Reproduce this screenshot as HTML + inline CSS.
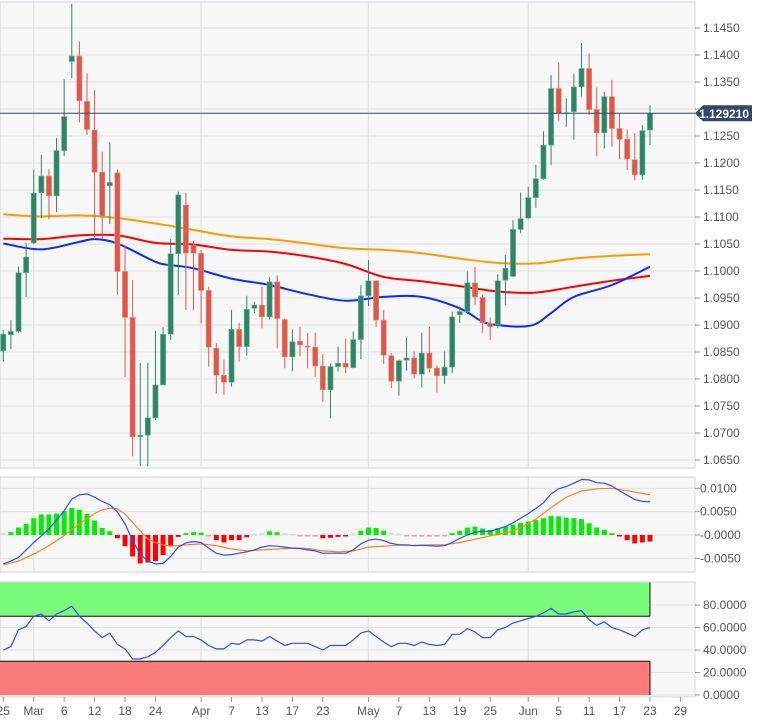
<!DOCTYPE html>
<html><head><meta charset="utf-8">
<style>
html,body{margin:0;padding:0;background:#fff;}
svg{display:block;font-family:"Liberation Sans",sans-serif;}
</style></head>
<body>
<svg id="chart" width="762" height="724" viewBox="0 0 762 724" xmlns="http://www.w3.org/2000/svg"></svg>
<script>
// ---- data ----
const opens  = [1.0852,1.0882,1.0888,1.0997,1.1052,1.1145,1.1176,1.1139,1.1223,1.1388,1.1398,1.1314,1.1261,1.1183,1.1158,1.1182,1.0999,1.0914,1.0693,1.0696,1.0728,1.0789,1.0883,1.1032,1.1122,1.1048,1.1033,1.0964,1.0857,1.0807,1.0794,1.0892,1.0860,1.0931,1.0937,1.0915,1.0980,1.0910,1.0841,1.0870,1.0861,1.0859,1.0824,1.0780,1.0823,1.0829,1.0821,1.0873,1.0954,1.0982,1.0909,1.0843,1.0796,1.0835,1.0839,1.0809,1.0848,1.0820,1.0806,1.0822,1.0919,1.0925,1.0978,1.0951,1.0903,1.0900,1.0983,1.0990,1.1077,1.1098,1.1136,1.1171,1.1233,1.1338,1.1292,1.1295,1.1341,1.1375,1.1299,1.1256,1.1323,1.1264,1.1244,1.1206,1.1178,1.1261];
const highs  = [1.0891,1.0909,1.1008,1.1052,1.1187,1.1215,1.1188,1.1246,1.1355,1.1495,1.1425,1.1366,1.1335,1.1221,1.1238,1.1188,1.1048,1.0983,1.0830,1.0830,1.0889,1.0896,1.1059,1.1147,1.1145,1.1056,1.1039,1.0971,1.0866,1.0836,1.0928,1.0904,1.0954,1.0943,1.0971,1.0989,1.0992,1.0912,1.0892,1.0897,1.0885,1.0886,1.0846,1.0829,1.0860,1.0875,1.0888,1.0974,1.1020,1.0982,1.0928,1.0848,1.0836,1.0877,1.0851,1.0886,1.0897,1.0825,1.0851,1.0925,1.0934,1.0999,1.1008,1.0956,1.0914,1.0994,1.1030,1.1094,1.1145,1.1156,1.1197,1.1259,1.1363,1.1386,1.1320,1.1365,1.1422,1.1403,1.1340,1.1332,1.1354,1.1293,1.1262,1.1255,1.1270,1.1307];
const lows   = [1.0832,1.0855,1.0885,1.0952,1.1050,1.1098,1.1096,1.1109,1.1213,1.1357,1.1275,1.1252,1.1059,1.1059,1.1087,1.0956,1.0804,1.0657,1.0639,1.0638,1.0724,1.0812,1.0872,1.0956,1.0928,1.0928,1.0903,1.0823,1.0773,1.0771,1.0786,1.0832,1.0843,1.0922,1.0894,1.0910,1.0857,1.0820,1.0814,1.0842,1.0820,1.0804,1.0758,1.0727,1.0814,1.0811,1.0820,1.0837,1.0935,1.0896,1.0828,1.0783,1.0769,1.0815,1.0801,1.0785,1.0812,1.0775,1.0791,1.0811,1.0904,1.0920,1.0937,1.0886,1.0872,1.0894,1.0937,1.0989,1.1070,1.1096,1.1117,1.1169,1.1196,1.1278,1.1267,1.1243,1.1323,1.1289,1.1213,1.1227,1.1230,1.1207,1.1187,1.1168,1.1169,1.1233];
const closes = [1.0883,1.0888,1.0997,1.1026,1.1144,1.1176,1.1139,1.1223,1.1286,1.1398,1.1315,1.1262,1.1183,1.1102,1.1164,1.0999,1.0914,1.0693,1.0696,1.0728,1.0789,1.0883,1.1032,1.1141,1.1033,1.1033,1.0964,1.0859,1.0807,1.0794,1.0892,1.0860,1.0929,1.0937,1.0915,1.0980,1.0912,1.0841,1.0869,1.0863,1.0859,1.0824,1.0780,1.0823,1.0829,1.0822,1.0873,1.0954,1.0982,1.0909,1.0844,1.0796,1.0834,1.0839,1.0809,1.0848,1.0820,1.0806,1.0822,1.0915,1.0925,1.0978,1.0952,1.0904,1.0897,1.0982,1.1005,1.1077,1.1097,1.1136,1.1171,1.1233,1.1338,1.1293,1.1293,1.1341,1.1375,1.1299,1.1256,1.1323,1.1264,1.1244,1.1207,1.1178,1.1260,1.1292];
const maIdx   = [0,5,10,15,20,25,30,35,40,45,50,55,60,65,70,75,80,85];
const ma200   = [1.1105,1.1101,1.1103,1.1098,1.1088,1.1076,1.1064,1.1059,1.1051,1.1042,1.1039,1.1033,1.1023,1.1015,1.1014,1.1023,1.1028,1.1031];
const ma100   = [1.1060,1.1059,1.1066,1.1066,1.1052,1.1049,1.1039,1.1036,1.1027,1.1013,1.0989,1.0981,1.0972,1.0962,1.0960,1.0971,1.0982,1.0991];
const ma50Idx = [0,5,10,12,15,20,22,25,30,35,40,45,50,55,60,63,65,68,70,72,75,80,85];
const ma50    = [1.1051,1.1040,1.1054,1.1059,1.1051,1.1017,1.1011,1.1005,1.0986,1.0974,1.0957,1.0945,1.0952,1.0952,1.0931,1.0906,1.0900,1.0897,1.0902,1.0922,1.0952,1.0974,1.1008];
const hist = [0.0002,0.0006,0.0016,0.0024,0.0036,0.0044,0.0044,0.0046,0.0051,0.0058,0.0054,0.0045,0.0031,0.0015,0.0008,-0.0007,-0.0024,-0.0046,-0.0061,-0.0059,-0.0056,-0.0043,-0.0024,-0.0004,0.0004,0.0006,0.0005,-0.0002,-0.0011,-0.0016,-0.0011,-0.0011,-0.0005,0.0000,0.0002,0.0008,0.0006,0.0002,0.0000,-0.0001,-0.0002,-0.0002,-0.0007,-0.0006,-0.0004,-0.0003,0.0001,0.0009,0.0016,0.0015,0.0009,0.0002,0.0001,-0.0001,-0.0001,-0.0002,-0.0002,-0.0002,-0.0001,0.0004,0.0009,0.0016,0.0018,0.0014,0.0011,0.0015,0.0018,0.0022,0.0026,0.0029,0.0032,0.0036,0.0041,0.0040,0.0037,0.0036,0.0034,0.0025,0.0016,0.0011,0.0004,-0.0003,-0.0011,-0.0018,-0.0016,-0.0014];
const macdLine = [-0.0062,-0.0056,-0.0048,-0.0032,-0.0016,-0.0002,0.0013,0.0032,0.0052,0.0077,0.0086,0.0088,0.0081,0.0072,0.0065,0.0049,0.0024,-0.0012,-0.0041,-0.0056,-0.0062,-0.0061,-0.0046,-0.0026,-0.0017,-0.0014,-0.0016,-0.0028,-0.0039,-0.0043,-0.0042,-0.0039,-0.0036,-0.0032,-0.0026,-0.0023,-0.0024,-0.0026,-0.0028,-0.0029,-0.0032,-0.0034,-0.0039,-0.0039,-0.0039,-0.0039,-0.0032,-0.0019,-0.0011,-0.0009,-0.0012,-0.0018,-0.0021,-0.0021,-0.0023,-0.0022,-0.0023,-0.0024,-0.0023,-0.0016,-0.0007,0.0000,0.0006,0.0008,0.0008,0.0013,0.0018,0.0026,0.0036,0.0046,0.0057,0.0069,0.0088,0.0099,0.0104,0.0111,0.0119,0.0118,0.0112,0.0111,0.0105,0.0095,0.0085,0.0076,0.0072,0.0071];
const sigIdx = [0,2,4,6,8,10,12,13,14,15,16,17,18,19,20,21,22,24,26,28,30,32,34,36,38,40,42,44,46,48,50,52,54,56,58,60,62,64,66,68,70,72,74,76,78,80,82,84,85];
const signal = [-0.0064,-0.0056,-0.0041,-0.0023,-0.0001,0.0024,0.0046,0.0054,0.0057,0.0056,0.0045,0.0027,0.0009,-0.0009,-0.0016,-0.0021,-0.0024,-0.0021,-0.0019,-0.0023,-0.0030,-0.0034,-0.0032,-0.0030,-0.0028,-0.0029,-0.0034,-0.0036,-0.0034,-0.0026,-0.0024,-0.0022,-0.0022,-0.0021,-0.0021,-0.0016,-0.0009,-0.0002,0.0004,0.0015,0.0034,0.0059,0.0081,0.0094,0.0099,0.0100,0.0095,0.0089,0.0086];
const rsi = [40,43,58,61,70,72,66,72,75,79,70,64,57,51,55,45,41,32,32,34,38,44,51,57,52,52,49,44,41,41,46,45,49,49,48,52,48,44,46,46,46,43,40,44,44,44,49,55,57,52,47,43,46,46,44,47,45,44,45,54,54,59,56,51,51,58,60,64,66,68,70,73,77,72,72,74,75,67,62,65,60,58,55,52,58,60];
const priceTicks = [1.1450,1.1400,1.1350,1.1300,1.1250,1.1200,1.1150,1.1100,1.1050,1.1000,1.0950,1.0900,1.0850,1.0800,1.0750,1.0700,1.0650];
const priceTickLabels = ["1.1450","1.1400","1.1350","","1.1250","1.1200","1.1150","1.1100","1.1050","1.1000","1.0950","1.0900","1.0850","1.0800","1.0750","1.0700","1.0650"];
const macdTicks = [0.01,0.005,0,-0.005];
const macdTickLabels = ["0.0100","0.0050","-0.0000","-0.0050"];
const rsiTicks = [80,60,40,20,0];
const rsiTickLabels = ["80.0000","60.0000","40.0000","20.0000","0.0000"];
const dateIdx = [0,4,8,12,16,20,26,30,34,38,42,48,52,56,60,64,69,73,77,81,85,89];
const dateLabels = ["25","Mar","6","12","18","24","Apr","7","13","17","23","May","7","13","19","25","Jun","5","11","17","23","29"];
const monthIdx = [4,26,48,69];
const lastPrice = 1.129210;

// ---- scales ----
const X = i => 3.3 + i*7.608;
const PY = p => 28 + (1.145 - p)*5400;
const MY = v => 535 - v*4667;
const RY = v => 695 - v*1.125;
const PW = 695;
const NS = "http://www.w3.org/2000/svg";
const svg = document.getElementById('chart');
function mk(tag, attrs, parent){
  const e = document.createElementNS(NS, tag);
  for (const k in attrs) e.setAttribute(k, attrs[k]);
  (parent||svg).appendChild(e);
  return e;
}
function group(name){
  const g = mk('g', {});
  
  
  return g;
}

// ---- panels ----
const panels = [[2,468,'price-panel'],[477,572,'macd-panel'],[582,697,'rsi-panel']];
panels.forEach(p=>{
  const r = mk('rect',{x:0,y:p[0],width:PW,height:p[1]-p[0],fill:'#f7f7f7',stroke:'#d3d6e0','stroke-width':1});
  
  
});

const grid = group('grid-lines');
priceTicks.forEach(t=>mk('line',{x1:0,x2:PW,y1:PY(t),y2:PY(t),stroke:'#e2e2e2','stroke-width':1},grid));
macdTicks.forEach(t=>mk('line',{x1:0,x2:PW,y1:MY(t),y2:MY(t),stroke:'#e2e2e2','stroke-width':1},grid));
rsiTicks.forEach(t=>mk('line',{x1:0,x2:PW,y1:RY(t),y2:RY(t),stroke:'#e2e2e2','stroke-width':1},grid));
monthIdx.forEach(i=>{
  [[2,468],[477,572],[582,697]].forEach(p=>mk('line',{x1:X(i),x2:X(i),y1:p[0],y2:p[1],stroke:'#e2e2e2','stroke-width':1.2},grid));
});

function polyline(idx, vals, yf, color, w, name){
  const pts = vals.map((v,j)=>X(idx?idx[j]:j).toFixed(1)+','+yf(v).toFixed(1)).join(' ');
  const l = mk('polyline',{points:pts,fill:'none',stroke:color,'stroke-width':w,'stroke-linejoin':'round'});
  
  
}
function smooth(idx, vals, yf, color, w, name){
  const P = vals.map((v,j)=>[X(idx[j]), yf(v)]);
  let d = 'M'+P[0][0].toFixed(1)+' '+P[0][1].toFixed(1);
  for (let j=0;j<P.length-1;j++){
    const p0=P[Math.max(0,j-1)], p1=P[j], p2=P[j+1], p3=P[Math.min(P.length-1,j+2)];
    const c1=[p1[0]+(p2[0]-p0[0])/6, p1[1]+(p2[1]-p0[1])/6];
    const c2=[p2[0]-(p3[0]-p1[0])/6, p2[1]-(p3[1]-p1[1])/6];
    d += ` C${c1[0].toFixed(1)} ${c1[1].toFixed(1)} ${c2[0].toFixed(1)} ${c2[1].toFixed(1)} ${p2[0].toFixed(1)} ${p2[1].toFixed(1)}`;
  }
  const l = mk('path',{d:d,fill:'none',stroke:color,'stroke-width':w});
  
  
}
smooth(maIdx, ma200, PY, '#ff9900', 2, 'ma200-line');
smooth(maIdx, ma100, PY, '#ff0000', 2, 'ma100-line');
smooth(ma50Idx, ma50, PY, '#0a2bff', 2, 'ma50-line');

const cg = group('candles');
for (let i=0;i<opens.length;i++){
  const up = closes[i] >= opens[i];
  const col = up ? '#2f8468' : '#d9594b';
  const c = mk('g',{},cg);
  
  
  mk('line',{x1:X(i),x2:X(i),y1:PY(highs[i]),y2:PY(lows[i]),stroke:col,'stroke-width':1},c);
  const top = PY(Math.max(opens[i],closes[i])), bot = PY(Math.min(opens[i],closes[i]));
  mk('rect',{x:X(i)-2.6,y:top,width:5.2,height:Math.max(1,bot-top),fill:col,stroke:up?'#6fb39c':'#eb8c80','stroke-width':0.6},c);
}

const lp = mk('line',{x1:0,x2:PW,y1:PY(lastPrice),y2:PY(lastPrice),stroke:'#34476a','stroke-width':1});


const ly = PY(lastPrice);
const lbl = group('last-price-label');
mk('path',{d:`M${PW} ${ly} L${PW+8} ${ly-8} L${752} ${ly-8} L752 ${ly+8} L${PW+8} ${ly+8} Z`,fill:'#34476a'},lbl);
const lt = mk('text',{x:724,y:ly+4.5,'font-size':12,'font-weight':'bold',fill:'#fff','text-anchor':'middle'},lbl);
lt.textContent = '1.129210';

const pa = group('price-axis');
priceTicks.forEach((t,j)=>{
  mk('line',{x1:PW,x2:PW+5,y1:PY(t),y2:PY(t),stroke:'#999'},pa);
  if (priceTickLabels[j]){
    const tx = mk('text',{x:703,y:PY(t)+4,'font-size':12,fill:'#555'},pa);
    tx.textContent = priceTickLabels[j];
  }
});

const hg = group('macd-histogram');
hist.forEach((v,i)=>{
  const tiny = Math.abs(v) < 0.00025;
  const col = v>=0 ? (tiny?'#b8eeb8':'#00ee00') : (tiny?'#f2a0a0':'#ff0000');
  const y0 = MY(0), y1 = MY(v);
  const b = mk('rect',{x:X(i)-2.5,y:Math.min(y0,y1)-(tiny&&v>=0?1:0),width:5,height:Math.max(1.5,Math.abs(y1-y0)),fill:col},hg);
  
  
});
polyline(sigIdx, signal, MY, '#ff7f1e', 1.2, 'macd-signal-line');
polyline(null, macdLine, MY, '#2a4dff', 1.2, 'macd-line');
const ma = group('macd-axis');
macdTicks.forEach((t,j)=>{
  mk('line',{x1:PW,x2:PW+5,y1:MY(t),y2:MY(t),stroke:'#999'},ma);
  const tx = mk('text',{x:700,y:MY(t)+4,'font-size':12,fill:'#555'},ma);
  tx.textContent = macdTickLabels[j];
});

const lastX = X(rsi.length-1);
const ob = mk('rect',{x:0,y:RY(100),width:lastX,height:RY(70)-RY(100),fill:'#7af97a'});


const os = mk('rect',{x:0,y:RY(30),width:lastX,height:RY(0)-RY(30),fill:'#fb7b7b'});


mk('line',{x1:0,x2:lastX,y1:RY(70),y2:RY(70),stroke:'#111','stroke-width':1});
mk('line',{x1:0,x2:lastX,y1:RY(30),y2:RY(30),stroke:'#111','stroke-width':1});
mk('line',{x1:lastX,x2:lastX,y1:RY(100),y2:RY(70),stroke:'#111','stroke-width':1});
mk('line',{x1:lastX,x2:lastX,y1:RY(30),y2:RY(0),stroke:'#111','stroke-width':1});
polyline(null, rsi, RY, '#2a4dff', 1.2, 'rsi-line');
const ra = group('rsi-axis');
rsiTicks.forEach((t,j)=>{
  mk('line',{x1:PW,x2:PW+5,y1:RY(t),y2:RY(t),stroke:'#999'},ra);
  const tx = mk('text',{x:703,y:RY(t)+4,'font-size':12,fill:'#555'},ra);
  tx.textContent = rsiTickLabels[j];
});

const da = group('date-axis');
dateIdx.forEach((i,j)=>{
  mk('line',{x1:X(i),x2:X(i),y1:697,y2:702,stroke:'#999'},da);
  const tx = mk('text',{x:X(i),y:715,'font-size':12,fill:'#555','text-anchor':'middle'},da);
  tx.textContent = dateLabels[j];
});
</script>
</body></html>
